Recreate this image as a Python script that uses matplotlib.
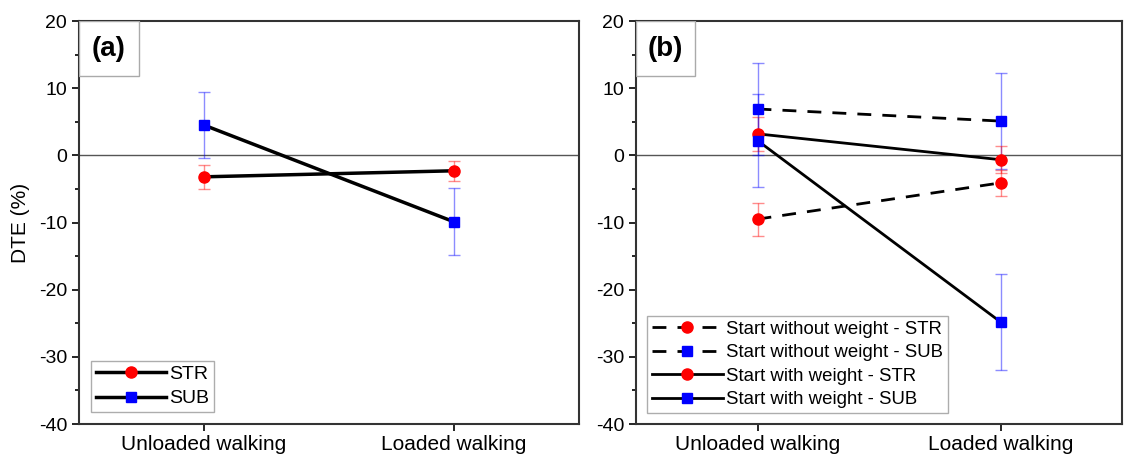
import matplotlib.pyplot as plt
from matplotlib.ticker import MultipleLocator
from matplotlib.patches import Rectangle

plt.rcParams['font.family'] = ['Liberation Sans', 'DejaVu Sans']
plt.rcParams['axes.unicode_minus'] = False

conditions = ['Unloaded walking', 'Loaded walking']

# panel (a)
a_str = [-3.2, -2.3]
a_str_err = [1.75, 1.5]
a_sub = [4.5, -9.9]
a_sub_err = [4.9, 5.0]

# panel (b)
b_wo_str = [-9.5, -4.1]
b_wo_str_err = [2.45, 1.9]
b_wo_sub = [6.9, 5.1]
b_wo_sub_err = [6.9, 7.2]
b_w_str = [3.2, -0.65]
b_w_str_err = [2.5, 2.0]
b_w_sub = [2.2, -24.8]
b_w_sub_err = [6.9, 7.1]

W, H = 1128, 459


def series(ax, vals, errs, marker, color, ls, lw, label):
    x = range(len(vals))
    ax.errorbar(x, vals, yerr=errs, fmt='none', ecolor=color, alpha=0.45,
                elinewidth=1, capsize=4, capthick=1, zorder=2)
    line, = ax.plot(x, vals, color='black', ls=ls, lw=lw, marker=marker,
                    ms=8 if marker == 'o' else 7, mfc=color, mec=color,
                    label=label, zorder=3)
    return line


def style(ax, tag, box_w):
    ax.set_xlim(-0.5, 1.5)
    ax.set_ylim(-40, 20)
    ax.set_xticks(range(len(conditions)))
    ax.set_xticklabels(conditions, fontsize=15)
    ax.yaxis.set_major_locator(MultipleLocator(10))
    ax.yaxis.set_minor_locator(MultipleLocator(5))
    ax.tick_params(axis='y', labelsize=14, length=5, width=1.2, direction='out')
    ax.tick_params(axis='y', which='minor', length=3, width=1.2)
    ax.tick_params(axis='x', length=5, width=1.2, direction='out', pad=3)
    ax.tick_params(top=False, right=False)
    for s in ax.spines.values():
        s.set_linewidth(1.5)
        s.set_color('#333333')
    ax.axhline(0, color='#555555', lw=1, zorder=1)
    bh = 55 / 403
    ax.add_patch(Rectangle((0, 1 - bh), box_w, bh, transform=ax.transAxes,
                           fc='white', ec='#aaaaaa', lw=1, zorder=4))
    ax.text(box_w / 2, 1 - bh / 2, tag, transform=ax.transAxes, fontsize=20,
            fontweight='bold', ha='center', va='center', zorder=5)


fig = plt.figure(figsize=(W / 100, H / 100), dpi=100)
ax1 = fig.add_axes([79 / W, 35 / H, 500 / W, 403 / H])
ax2 = fig.add_axes([636 / W, 35 / H, 486 / W, 403 / H])

series(ax1, a_str, a_str_err, 'o', 'red', '-', 2.5, 'STR')
series(ax1, a_sub, a_sub_err, 's', 'blue', '-', 2.5, 'SUB')
style(ax1, '(a)', 60 / 500)
ax1.set_ylabel('DTE (%)', fontsize=15, labelpad=6)
leg = ax1.legend(loc='lower left', fontsize=14, frameon=True, fancybox=False,
                 edgecolor='#999999', handlelength=3.6, handletextpad=0.2,
                 borderpad=0.25, labelspacing=0.35, borderaxespad=0.6)
leg.get_frame().set_linewidth(1)

series(ax2, b_wo_str, b_wo_str_err, 'o', 'red', (0, (5, 4)), 2, 'Start without weight - STR')
series(ax2, b_wo_sub, b_wo_sub_err, 's', 'blue', (0, (5, 4)), 2, 'Start without weight - SUB')
series(ax2, b_w_str, b_w_str_err, 'o', 'red', '-', 2, 'Start with weight - STR')
series(ax2, b_w_sub, b_w_sub_err, 's', 'blue', '-', 2, 'Start with weight - SUB')
style(ax2, '(b)', 59 / 486)
leg = ax2.legend(loc='lower left', fontsize=13.4, frameon=True, fancybox=False,
                 edgecolor='#999999', handlelength=3.8, handletextpad=0.2,
                 borderpad=0.25, labelspacing=0.35, borderaxespad=0.6)
leg.get_frame().set_linewidth(1)

fig.savefig('out.png', dpi=100)
